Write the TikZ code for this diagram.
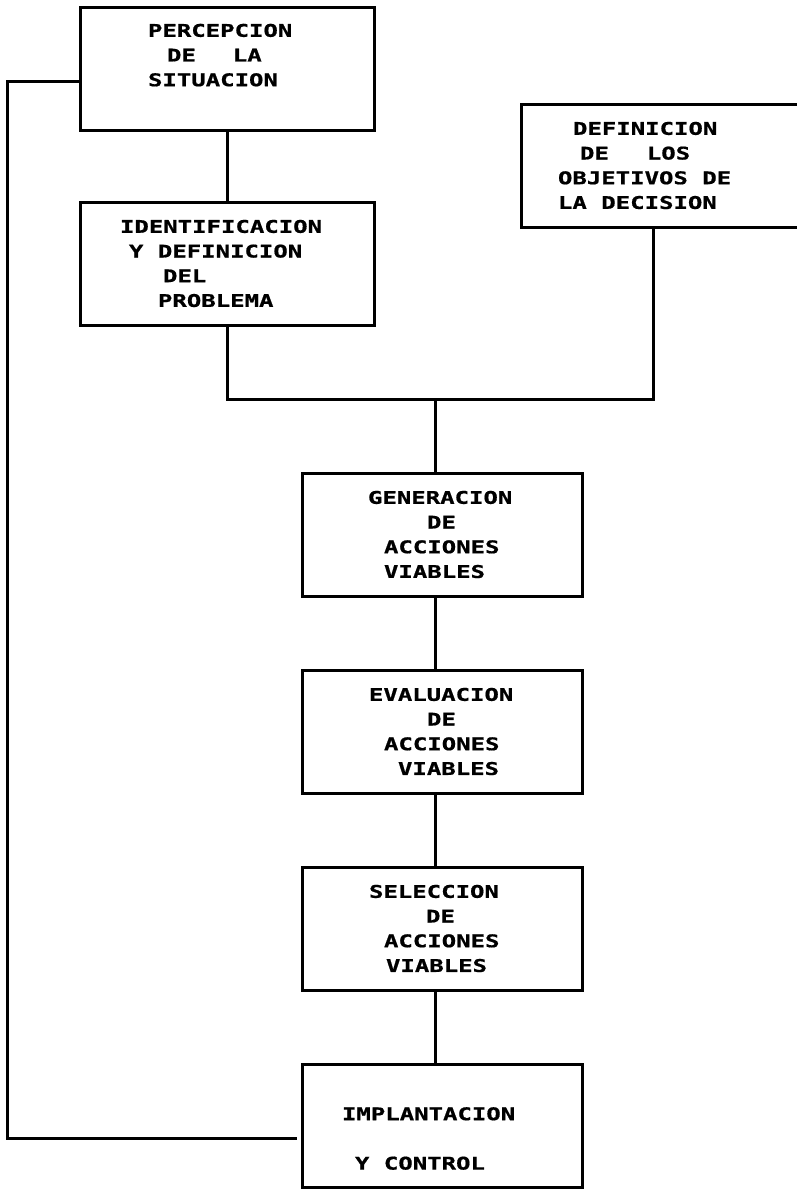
\documentclass[tikz,border=0pt]{standalone}
\usepackage{fontspec}
\newfontfamily\printfont{DejaVu Sans Mono}[FakeStretch=1.37, BoldFeatures={FakeBold=0.8}]
\usepackage{tikz}
\usetikzlibrary{positioning}

\begin{document}
\begin{tikzpicture}[
    x=1pt, y=-1pt,
    node distance=74pt,
    stage/.style={draw, line width=3pt, outer sep=0pt, minimum width=280pt, minimum height=123pt, align=left, font=\printfont\bfseries\fontsize{17.5}{24.7}\selectfont},
    link/.style={line width=3pt}
]
\useasboundingbox[fill=white] (0,0) rectangle (797,1189);
\node[stage, minimum width=294pt, text width=158pt] (perc) at (227,68.5) {PERCEPCION\\\hspace*{19pt}DE\hspace*{37pt}LA\\SITUACION\\[2.3pt]\mbox{}};
\node[stage, minimum width=294pt, text width=214pt, below=72pt of perc] (ident) {IDENTIFICACION\\\hspace*{9pt}Y\hspace*{14.5pt}DEFINICION\\\hspace*{43pt}DEL\\\hspace*{38pt}PROBLEMA};
\node[stage, text width=206pt] (goals) at (661,165.5) {\hspace*{15pt}DEFINICION\\\hspace*{22pt}DE\hspace*{38pt}LOS\\OBJETIVOS\hspace*{14.5pt}DE\\LA\hspace*{14.5pt}DECISION};
\node[stage, text width=148pt] (gen) at (442,534.5) {GENERACION\\\hspace*{59pt}DE\\\hspace*{16pt}ACCIONES\\\hspace*{16pt}VIABLES};
\node[stage, text width=146pt, below=of gen] (evalu) {EVALUACION\\\hspace*{58pt}DE\\\hspace*{15pt}ACCIONES\\\hspace*{29pt}VIABLES};
\node[stage, text width=146pt, below=of evalu] (select) {SELECCION\\\hspace*{57pt}DE\\\hspace*{15pt}ACCIONES\\\hspace*{17pt}VIABLES};
\node[stage, text width=200pt, below=of select] (impl) {\mbox{}\\[14.3pt]IMPLANTACION\\[24.7pt]\hspace*{13pt}Y\hspace*{14.5pt}CONTROL};
\coordinate (join) at (435,399);
\coordinate (fb) at (7,600);
% problem and goals meet above the options
\draw[link] (perc.south) -- (ident.north);
\draw[link] (ident.south) |- (join) -| ([xshift=-8pt]goals.south);
\draw[link] (join) -- (join |- gen.north);
\draw[link] ([xshift=-7pt]gen.south) -- ([xshift=-7pt]evalu.north);
\draw[link] ([xshift=-7pt]evalu.south) -- ([xshift=-7pt]select.north);
\draw[link] ([xshift=-7pt]select.south) -- ([xshift=-7pt]impl.north);
% feedback to the start
\draw[link, shorten >=5pt] ([yshift=-12.5pt]perc.west) -| (fb) |- ([yshift=-12.5pt]impl.west);
\end{tikzpicture}
\end{document}
